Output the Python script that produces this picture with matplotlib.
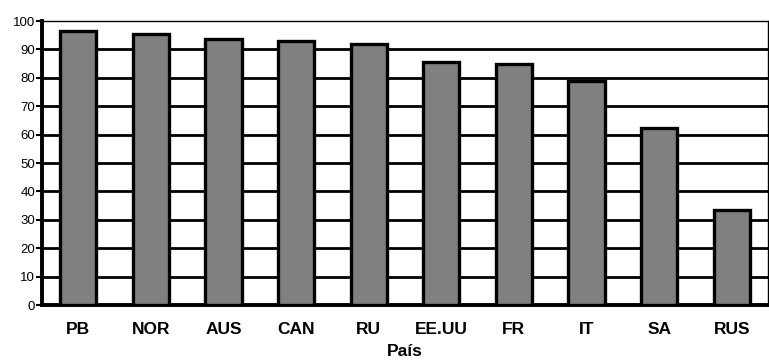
import matplotlib
matplotlib.use("Agg")
import matplotlib.pyplot as plt

paises = ["PB", "NOR", "AUS", "CAN", "RU", "EE.UU", "FR", "IT", "SA", "RUS"]
valores = [96.5, 95.5, 93.5, 93, 92, 85.5, 85, 79, 62.5, 33.5]
yticks = list(range(0, 101, 10))

plt.rcParams['font.family'] = ['Liberation Sans', 'DejaVu Sans']

fig = plt.figure(figsize=(7.69, 3.6), dpi=100)
ax = fig.add_axes([42 / 769, 55 / 360, 726 / 769, 284 / 360])

x = range(len(paises))
ax.bar(x, valores, width=0.5, color="#808080", edgecolor="black",
       linewidth=2.4, zorder=3)

ax.set_xlim(-0.5, len(paises) - 0.5)
ax.set_ylim(0, 100)
ax.set_yticks(yticks)
ax.set_yticklabels([str(v) for v in yticks], fontsize=9.5)
ax.set_xticks(list(x))
ax.set_xticklabels(paises, fontsize=12.5, fontweight="bold")
ax.tick_params(axis="x", length=0, pad=12)
ax.tick_params(axis="y", length=4, width=1.5, pad=1)

# horizontal lines every 10 units, behind the bars
for v in yticks[1:-1]:
    ax.axhline(v, color="black", linewidth=2, zorder=1)

ax.spines["left"].set_linewidth(2.8)
ax.spines["bottom"].set_linewidth(2.8)
ax.spines["top"].set_linewidth(1)
ax.spines["right"].set_linewidth(1)

ax.set_xlabel("País", fontsize=12.5, fontweight="bold", labelpad=5)

fig.savefig("out.png", dpi=100)
